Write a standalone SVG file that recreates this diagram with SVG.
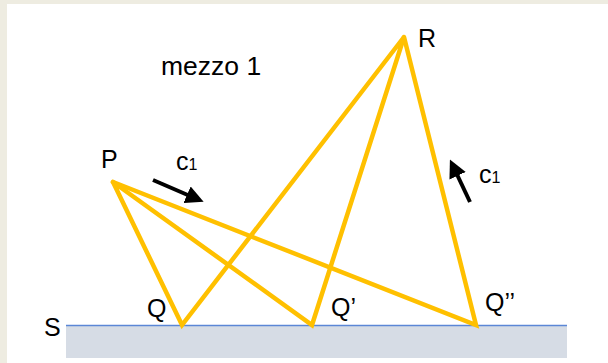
<svg xmlns="http://www.w3.org/2000/svg" width="608" height="363" viewBox="0 0 608 363">
<style>
  .lbl { font-family: "Liberation Sans", Arial, sans-serif; font-size: 25px; fill: #000; }
  .ray { stroke: #FFC000; stroke-width: 4.5; fill: none; stroke-linejoin: miter; stroke-linecap: round; }
  .arr { stroke: #000; stroke-width: 4; fill: none; }
</style>
<defs>
  <marker id="ah" viewBox="0 0 10 10" refX="6" refY="5" markerWidth="4.5" markerHeight="4.5" orient="auto" markerUnits="strokeWidth">
    <path d="M0,0 L10,5 L0,10 z" fill="#000"/>
  </marker>
</defs>
<rect x="0" y="0" width="608" height="363" fill="#EEECE1"/>
<rect x="7" y="4" width="601" height="359" fill="#FFFFFF"/>

<g id="surface">
  <rect x="66" y="326" width="501" height="32" fill="#D6DCE5"/>
  <line x1="66" y1="325.5" x2="567" y2="325.5" stroke="#5B87D6" stroke-width="1.5"/>
  <text class="lbl" x="44" y="336">S</text>
</g>

<g id="connectors">
  <polyline class="ray" points="113,182 182,325 404,37 312,325 113,182"/>
  <polyline class="ray" points="113,182 476,325 404,37"/>
  <line class="arr" x1="153" y1="180" x2="197" y2="199" marker-end="url(#ah)"/>
  <line class="arr" x1="470" y1="202" x2="453" y2="166" marker-end="url(#ah)"/>
</g>

<g id="P"><text class="lbl" x="101" y="168">P</text></g>
<g id="R"><text class="lbl" x="418" y="47">R</text></g>
<g id="Q"><text class="lbl" x="147" y="317">Q</text></g>
<g id="Q1"><text class="lbl" x="331" y="316">Q’</text></g>
<g id="Q2"><text class="lbl" x="485" y="311">Q’’</text></g>
<g id="medium"><text class="lbl" x="161" y="75" style="font-size:26.5px">mezzo 1</text></g>
<g id="c1a"><text class="lbl" x="176" y="170">c<tspan style="font-size:16px">1</tspan></text></g>
<g id="c1b"><text class="lbl" x="479" y="183">c<tspan style="font-size:16px">1</tspan></text></g>
</svg>
